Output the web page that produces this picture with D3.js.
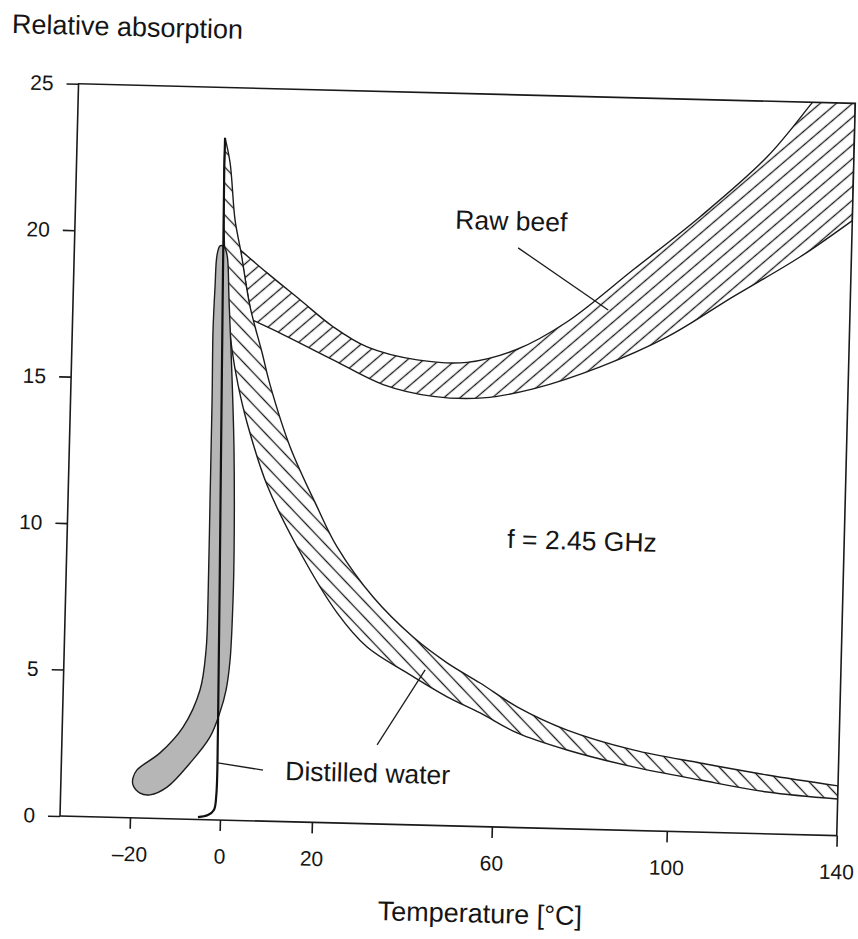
<!DOCTYPE html>
<html>
<head>
<meta charset="utf-8">
<script src="https://cdn.jsdelivr.net/npm/d3@7"></script>
<style>
  body { margin: 0; background: #fff; }
  text { font-family: "Liberation Sans", Arial, Helvetica, sans-serif; fill: #151515; }
</style>
</head>
<body>
<script>
// tick values
const xTicks = [-20, 0, 20, 60, 100, 140];
const yTicks = [0, 5, 10, 15, 20, 25];

// distilled water: the sharp line at the melting point
const waterLine = [[-4.9, 0.08], [-2.7, 0.16], [-1.4, 0.34], [-0.95, 0.85], [-0.95, 3.07],
    [-1.67, 10.92], [-2.32, 17.75], [-2.7, 22.2], [-2.7, 23.28]];

// distilled water band (hatched \\\)
const waterUpper = [[-2.7, 23.28], [-1.44, 22.43], [-0.02, 20.49], [1.48, 19.37], [3.72, 17.54],
    [6.59, 15.98], [8.5, 14.89], [13.2, 12.79], [19.39, 10.77], [24.04, 9.42], [32.33, 7.74],
    [41.44, 6.41], [49.13, 5.56], [56.58, 4.9], [65.07, 4.12], [76.64, 3.37], [91.84, 2.75],
    [107.46, 2.36], [123.29, 2.01], [140, 1.70]];
const waterLower = [[-2.73, 22.19], [-2.4, 20.14], [-1.34, 17.75], [0.04, 16.05], [1.54, 14.86],
    [3.72, 13.57], [8.39, 11.47], [15.26, 9.39], [24.42, 7.17], [31.27, 6.03], [40.31, 5.18],
    [49.33, 4.4], [56.76, 3.88], [65.23, 3.23], [76.75, 2.69], [91.95, 2.17], [107.55, 1.78],
    [123.39, 1.43], [140, 1.25]];

// raw beef band (hatched ///)
const beefUpper = [[1.24, 19.47], [7.24, 18.71], [14.54, 17.82], [21.91, 16.93], [29.58, 16.27],
    [40.78, 15.87], [51.89, 15.83], [63.04, 16.32], [74.29, 17.3], [89.07, 19.13],
    [104.19, 21.0], [119.6, 23.1], [129.41, 24.9], [140, 27.0]];
const beefLower = [[4.23, 17.09], [11.04, 16.62], [22.11, 15.8], [33.36, 15.0], [44.53, 14.64],
    [55.64, 14.63], [66.9, 14.98], [82.08, 15.79], [97.23, 16.87], [112.45, 18.3],
    [127.98, 19.72], [140, 21.0]];

// frozen beef (grey outline, closed)
const beefFrozen = [[-19.56, 1.36], [-18.71, 1.64], [-13.69, 2.24], [-8.72, 3.14], [-5.16, 4.42],
    [-4.04, 5.79], [-3.89, 7.5], [-4.0, 10.91], [-4.11, 14.33], [-4.29, 16.72], [-4.09, 18.19],
    [-3.82, 19.28], [-3.2, 19.59], [-2.31, 19.56], [-1.6, 19.29], [-0.91, 17.76], [0.22, 15.03],
    [1.02, 12.64], [1.59, 9.23], [1.63, 7.52], [1.32, 5.47], [0.61, 4.44], [-0.58, 3.69],
    [-2.67, 2.83], [-6.96, 1.92], [-11.93, 1.08], [-15.67, 0.8], [-17.91, 0.85], [-19.51, 1.12]];

// labels and their leader lines
const labels = [
    { text: 'Raw beef', t: 48.47, v: 20.38 },
    { text: 'f = 2.45 GHz', t: 61.87, v: 9.53 },
    { text: 'Distilled water', t: 13.93, v: 1.42 }
];
const pointers = [
    [[62.65, 19.78], [83.59, 17.74]],
    [[9.09, 1.74], [-0.8, 1.95]],
    [[34.04, 2.70], [44.29, 5.30]]
];

const W = 777, H = 732.5;

const svg = d3.select('body').append('svg')
    .attr('width', 858)
    .attr('height', 939);

svg.append('rect').attr('width', 858).attr('height', 939).attr('fill', '#fff');

// the scanned page sits slightly rotated
const g = svg.append('g')
    .attr('transform', 'translate(60,816) rotate(1.45)');

const x = d3.scaleLinear().domain(xTicks).range([70, 160, 252, 432, 607, W]);
const y = d3.scaleLinear().domain([0, 25]).range([0, -H]);

const defs = svg.append('defs');
defs.append('clipPath').attr('id', 'frame')
    .append('rect').attr('x', 0).attr('y', -H).attr('width', W).attr('height', H);

function hatch(id, size, angle) {
    const p = defs.append('pattern')
        .attr('id', id)
        .attr('patternUnits', 'userSpaceOnUse')
        .attr('width', size)
        .attr('height', size)
        .attr('patternTransform', `rotate(${angle})`);
    p.append('rect').attr('width', size).attr('height', size).attr('fill', '#fff');
    p.append('line')
        .attr('x1', size / 2).attr('x2', size / 2)
        .attr('y1', -1).attr('y2', size + 1)
        .attr('stroke', '#1c1c1c').attr('stroke-width', 1.3);
}
hatch('hatchWater', 11, -45);
hatch('hatchBeef', 10.5, 48);

const line = d3.line()
    .x(d => x(d[0]))
    .y(d => y(d[1]))
    .curve(d3.curveCatmullRom);

// closed band from an upper and a lower edge
const band = (upper, lower) =>
    line(upper) + 'L' + line(lower.slice().reverse()).slice(1) + 'Z';

const plot = g.append('g').attr('clip-path', 'url(#frame)');

plot.append('path')
    .attr('d', band(beefUpper, beefLower))
    .attr('fill', 'url(#hatchBeef)')
    .attr('stroke', '#1c1c1c')
    .attr('stroke-width', 1.4);

plot.append('path')
    .attr('d', band(waterUpper, waterLower))
    .attr('fill', 'url(#hatchWater)')
    .attr('stroke', '#1c1c1c')
    .attr('stroke-width', 1.4);

plot.append('path')
    .attr('d', d3.line().x(d => x(d[0])).y(d => y(d[1])).curve(d3.curveCatmullRomClosed)(beefFrozen))
    .attr('fill', '#b6b6b6')
    .attr('stroke', '#1c1c1c')
    .attr('stroke-width', 1.4);

plot.append('path')
    .attr('d', line(waterLine))
    .attr('fill', 'none')
    .attr('stroke', '#111')
    .attr('stroke-width', 2.2);

// frame
g.append('rect')
    .attr('x', 0).attr('y', -H)
    .attr('width', W).attr('height', H)
    .attr('fill', 'none')
    .attr('stroke', '#1a1a1a')
    .attr('stroke-width', 1.6);

// axes
const xAxis = d3.axisBottom(x)
    .tickValues(xTicks)
    .tickSize(11)
    .tickPadding(17.6)
    .tickFormat(d => d < 0 ? '\u2013' + Math.abs(d) : d);
const gx = g.append('g').call(xAxis);

const yAxis = d3.axisLeft(y)
    .tickValues(yTicks)
    .tickSize(12)
    .tickPadding(13);
const gy = g.append('g').call(yAxis);

[gx, gy].forEach(a => {
    a.select('.domain').remove();
    a.selectAll('line').attr('stroke', '#1a1a1a').attr('stroke-width', 1.6);
    a.selectAll('text')
        .attr('font-size', 21)
        .attr('font-family', '"Liberation Sans", Arial, sans-serif')
        .attr('fill', '#151515');
});

// leader lines and annotations
g.selectAll('.pointer')
    .data(pointers)
    .join('line')
    .attr('class', 'pointer')
    .attr('x1', d => x(d[0][0])).attr('y1', d => y(d[0][1]))
    .attr('x2', d => x(d[1][0])).attr('y2', d => y(d[1][1]))
    .attr('stroke', '#1c1c1c')
    .attr('stroke-width', 1.3);

g.selectAll('.label')
    .data(labels)
    .join('text')
    .attr('class', 'label')
    .attr('x', d => x(d.t))
    .attr('y', d => y(d.v))
    .attr('font-size', 26.5)
    .text(d => d.text);

// axis titles
g.append('text')
    .attr('x', -68)
    .attr('y', -H - 49)
    .attr('font-size', 27)
    .text('Relative absorption');

g.append('text')
    .attr('x', 320)
    .attr('y', 96)
    .attr('font-size', 27)
    .text('Temperature [°C]');
</script>
</body>
</html>
